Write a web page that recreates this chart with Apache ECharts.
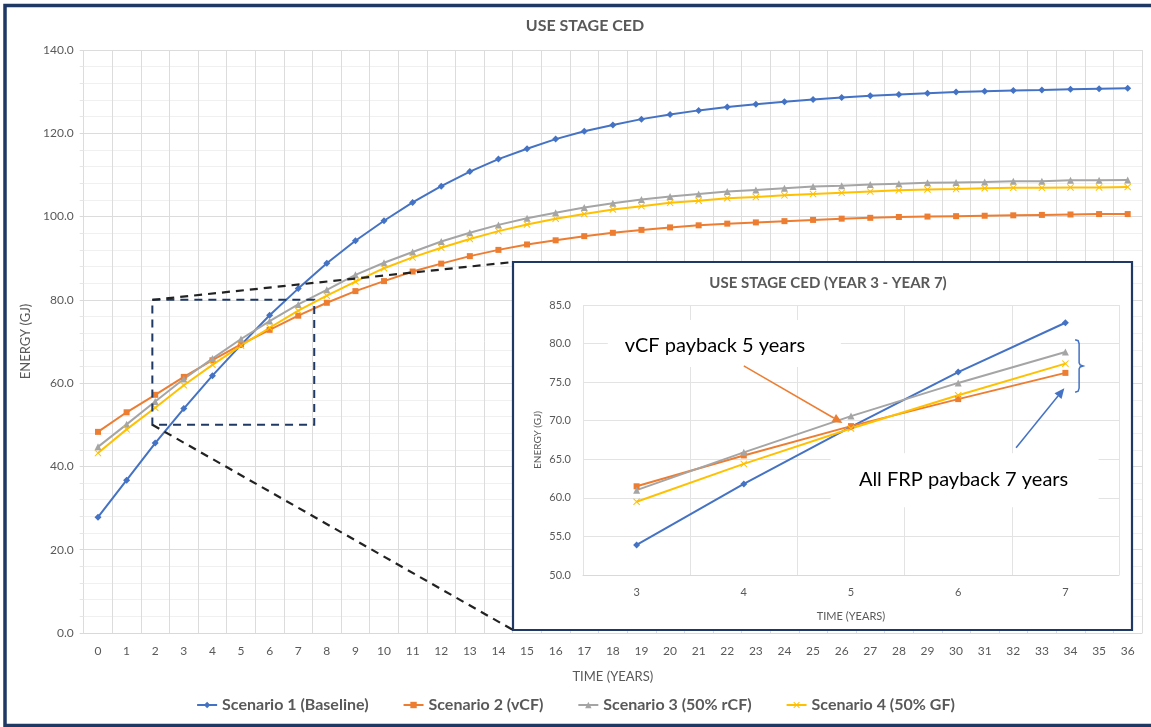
<!DOCTYPE html>
<html>
<head>
<meta charset="utf-8">
<script src="https://cdn.jsdelivr.net/npm/echarts@6/dist/echarts.min.js"></script>
<style>
  html, body { margin: 0; padding: 0; background: #fff; }
  #chart { width: 1151px; height: 727px; }
</style>
</head>
<body>
<div id="chart"></div>
<script>
// Time axis (years after installation)
const years = ['0','1','2','3','4','5','6','7','8','9','10','11','12','13','14','15','16','17','18',
  '19','20','21','22','23','24','25','26','27','28','29','30','31','32','33','34','35','36'];

// Cumulative use-stage CED (GJ) per scenario
const scenario1 = [27.8, 36.7, 45.6, 53.9, 61.8, 69.2, 76.3, 82.7, 88.8, 94.2, 99.0, 103.4, 107.3, 110.8,
  113.8, 116.3, 118.6, 120.5, 122.0, 123.4, 124.5, 125.5, 126.3, 127.0, 127.6, 128.1, 128.6, 129.0,
  129.3, 129.6, 129.9, 130.1, 130.3, 130.4, 130.6, 130.7, 130.8];
const scenario2 = [48.3, 53.0, 57.2, 61.5, 65.5, 69.3, 72.8, 76.2, 79.3, 82.1, 84.5, 86.8, 88.7, 90.5,
  92.0, 93.3, 94.3, 95.3, 96.1, 96.8, 97.4, 97.9, 98.3, 98.6, 98.9, 99.2, 99.5, 99.7, 99.9, 100.0,
  100.1, 100.2, 100.3, 100.4, 100.5, 100.6, 100.6];
const scenario3 = [44.7, 50.1, 55.6, 61.0, 65.9, 70.6, 74.9, 78.9, 82.4, 86.0, 88.9, 91.5, 94.0, 96.1,
  98.0, 99.6, 100.9, 102.2, 103.2, 104.1, 104.8, 105.4, 106.0, 106.4, 106.8, 107.2, 107.4, 107.7,
  107.9, 108.1, 108.2, 108.3, 108.5, 108.5, 108.7, 108.7, 108.8];
const scenario4 = [43.2, 48.9, 54.1, 59.5, 64.4, 69.0, 73.3, 77.4, 81.0, 84.4, 87.6, 90.2, 92.5, 94.6,
  96.5, 98.1, 99.5, 100.6, 101.7, 102.5, 103.3, 103.8, 104.4, 104.7, 105.1, 105.4, 105.7, 106.0,
  106.3, 106.5, 106.6, 106.8, 106.9, 106.9, 107.0, 107.0, 107.1];

const seriesNames = ['Scenario 1 (Baseline)', 'Scenario 2 (vCF)', 'Scenario 3 (50% rCF)', 'Scenario 4 (50% GF)'];
const seriesData = [scenario1, scenario2, scenario3, scenario4];
const colors = ['#4472C4', '#ED7D31', '#A5A5A5', '#FFC000'];
const crossSymbol = 'path://M1,0 L5,4 L9,0 L10,1 L6,5 L10,9 L9,10 L5,6 L1,10 L0,9 L4,5 L0,1 Z';
const symbols = ['diamond', 'rect', 'triangle', crossSymbol];
const symbolSizes = [7, 6, 7, 7];

// Detail window: years 3..7
const insetFrom = 3, insetTo = 7;
const insetYears = years.slice(insetFrom, insetTo + 1);

const FONT = 'Lato, "Open Sans", sans-serif';
const GREY = '#595959';
const NAVY = '#1F3864';

// Layout of the detail panel
const inset = { left: 583, top: 305, right: 1119, bottom: 575 };
const insetBox = { x: 513, y: 262, x2: 1132, y2: 630 };

const chart = echarts.init(document.getElementById('chart'), null, { renderer: 'canvas' });

const mainSeries = seriesNames.map((name, i) => ({
  name, type: 'line', xAxisIndex: 0, yAxisIndex: 0,
  data: seriesData[i],
  symbol: symbols[i], symbolSize: symbolSizes[i], showSymbol: true,
  lineStyle: { color: colors[i], width: 2 },
  itemStyle: { color: colors[i] },
  z: 2
}));
const insetSeries = seriesNames.map((name, i) => ({
  name, type: 'line', xAxisIndex: 1, yAxisIndex: 1,
  data: seriesData[i].slice(insetFrom, insetTo + 1),
  symbol: symbols[i], symbolSize: symbolSizes[i], showSymbol: true,
  lineStyle: { color: colors[i], width: 2 },
  itemStyle: { color: colors[i] },
  z: 10
}));

chart.setOption({
  animation: false,
  backgroundColor: '#fff',
  textStyle: { fontFamily: FONT },
  title: [
    { text: 'USE STAGE CED', left: 580, top: 13, textAlign: 'center',
      textStyle: { fontFamily: FONT, fontSize: 16, fontWeight: 'bold', color: GREY } },
    { text: 'USE STAGE CED (YEAR 3 - YEAR 7)', left: 823, top: 271, textAlign: 'center', z: 12,
      textStyle: { fontFamily: FONT, fontSize: 15, fontWeight: 'bold', color: GREY } }
  ],
  legend: {
    data: seriesNames, bottom: 9, left: 'center',
    itemWidth: 20, itemHeight: 8, itemGap: 34,
    textStyle: { fontFamily: FONT, fontSize: 16, fontWeight: 700, color: GREY }
  },
  grid: [
    { left: 83.7, right: 9, top: 50, bottom: 94 },
    { left: inset.left, top: inset.top, width: inset.right - inset.left, height: inset.bottom - inset.top, z: 8 }
  ],
  xAxis: [
    { type: 'category', gridIndex: 0, data: years, boundaryGap: true,
      name: 'TIME (YEARS)', nameLocation: 'middle', nameGap: 37,
      nameTextStyle: { fontFamily: FONT, fontSize: 13, color: GREY },
      axisLine: { lineStyle: { color: '#D9D9D9' } },
      axisTick: { show: false },
      axisLabel: { color: GREY, fontSize: 12, margin: 12, interval: 0 },
      splitLine: { show: true, interval: 0, lineStyle: { color: '#DCDCDC', width: 1 } } },
    { type: 'category', gridIndex: 1, data: insetYears, boundaryGap: true, z: 8,
      name: 'TIME (YEARS)', nameLocation: 'middle', nameGap: 36,
      nameTextStyle: { fontFamily: FONT, fontSize: 11, color: GREY },
      axisLine: { lineStyle: { color: '#D9D9D9' } },
      axisTick: { show: false },
      axisLabel: { color: GREY, fontSize: 11, margin: 12 },
      splitLine: { show: true, interval: 0, lineStyle: { color: '#E3E3E3', width: 1 } } }
  ],
  yAxis: [
    { type: 'value', gridIndex: 0, min: 0, max: 140, interval: 20,
      name: 'ENERGY (GJ)', nameLocation: 'middle', nameGap: 45,
      nameTextStyle: { fontFamily: FONT, fontSize: 13, color: GREY },
      axisLine: { show: false },
      axisTick: { show: true, length: 4, lineStyle: { color: '#D9D9D9' } },
      minorTick: { show: true, splitNumber: 5, length: 4, lineStyle: { color: '#E6E6E6' } },
      axisLabel: { color: GREY, fontSize: 12, margin: 10, formatter: v => v.toFixed(1) },
      splitLine: { show: true, lineStyle: { color: '#DCDCDC', width: 1 } },
      minorSplitLine: { show: true, lineStyle: { color: '#F0F0F0', width: 1 } } },
    { type: 'value', gridIndex: 1, min: 50, max: 85, interval: 5, z: 8,
      name: 'ENERGY (GJ)', nameLocation: 'middle', nameGap: 40,
      nameTextStyle: { fontFamily: FONT, fontSize: 10, color: GREY },
      axisLine: { show: false },
      axisTick: { show: false },
      axisLabel: { color: GREY, fontSize: 11, margin: 12, formatter: v => v.toFixed(1) },
      splitLine: { show: true, lineStyle: { color: '#E3E3E3', width: 1 } } }
  ],
  series: mainSeries.concat(insetSeries)
});

// Pixel position for a (possibly fractional) category index and a value on a grid
function px(gridIndex, xi, y) {
  const i0 = Math.floor(xi), f = xi - i0;
  const a = chart.convertToPixel({ gridIndex }, [i0, y]);
  if (f === 0) return a;
  const b = chart.convertToPixel({ gridIndex }, [i0 + 1, y]);
  return [a[0] + (b[0] - a[0]) * f, a[1]];
}

function arrow(from, to, color, z) {
  const ang = Math.atan2(to[1] - from[1], to[0] - from[0]);
  const L = 10, W = 4.5;
  const bx = to[0] - L * Math.cos(ang), by = to[1] - L * Math.sin(ang);
  const nx = -Math.sin(ang) * W, ny = Math.cos(ang) * W;
  return [
    { type: 'line', z, shape: { x1: from[0], y1: from[1], x2: bx, y2: by },
      style: { stroke: color, lineWidth: 1.5 } },
    { type: 'polygon', z, shape: { points: [[to[0], to[1]], [bx + nx, by + ny], [bx - nx, by - ny]] },
      style: { fill: color } }
  ];
}

// Dashed window marking years ~2..7.5 and 50..80 GJ on the main plot
const winTL = px(0, 1.9, 80);
const winBR = px(0, 7.56, 50);

// Annotation anchors in the detail panel
const vcfText = px(1, 0.73, 79.7);
const vcfFrom = px(1, 1.0, 77.1);
const vcfTo = px(1, 1.92, 69.7);
const frpText = px(1, 3.05, 62.4);
const frpFrom = px(1, 3.54, 66.5);
const frpTo = px(1, 3.99, 74.2);
const brTop = px(1, 4.1, 80.5);
const brBot = px(1, 4.1, 73.7);
const brMidY = (brTop[1] + brBot[1]) / 2;
const bx = brTop[0];

// Right-hand brace grouping the composite scenarios at year 7
const bracePts = [
  [bx - 1, brTop[1]], [bx + 2, brTop[1] + 1], [bx + 3, brTop[1] + 4],
  [bx + 3, brMidY - 3], [bx + 4, brMidY - 1], [bx + 7, brMidY],
  [bx + 4, brMidY + 1], [bx + 3, brMidY + 3],
  [bx + 3, brBot[1] - 4], [bx + 2, brBot[1] - 1], [bx - 1, brBot[1]]
];

const graphics = [
  // outer frame
  { type: 'rect', z: 20, silent: true, shape: { x: 5, y: 5.5, width: 1170, height: 720 },
    style: { fill: null, stroke: NAVY, lineWidth: 3.5 } },
  // zoom window
  { type: 'rect', z: 6, shape: { x: winTL[0], y: winTL[1], width: winBR[0] - winTL[0], height: winBR[1] - winTL[1] },
    style: { fill: null, stroke: NAVY, lineWidth: 2, lineDash: [8, 6] } },
  // connectors to the detail panel
  { type: 'line', z: 6, shape: { x1: winTL[0], y1: winTL[1], x2: insetBox.x, y2: insetBox.y },
    style: { stroke: '#222', lineWidth: 2.2, lineDash: [8, 6] } },
  { type: 'line', z: 6, shape: { x1: winTL[0], y1: winBR[1], x2: insetBox.x, y2: insetBox.y2 },
    style: { stroke: '#222', lineWidth: 2.2, lineDash: [8, 6] } },
  // detail panel background and frame
  { type: 'rect', z: 5, shape: { x: insetBox.x, y: insetBox.y, width: insetBox.x2 - insetBox.x, height: insetBox.y2 - insetBox.y },
    style: { fill: '#fff', stroke: NAVY, lineWidth: 2.2 } },
  // label boxes
  { type: 'rect', z: 9, shape: { x: vcfText[0] - 107, y: vcfText[1] - 26, width: 233, height: 47 },
    style: { fill: '#fff' } },
  { type: 'text', z: 13, style: { x: vcfText[0], y: vcfText[1], text: 'vCF payback 5 years',
      fill: '#000', font: '20px ' + FONT, textAlign: 'center', textVerticalAlign: 'middle' } },
  { type: 'rect', z: 9, shape: { x: frpText[0] - 133, y: frpText[1] - 26, width: 268, height: 54 },
    style: { fill: '#fff' } },
  { type: 'text', z: 13, style: { x: frpText[0], y: frpText[1], text: 'All FRP payback 7 years',
      fill: '#000', font: '20px ' + FONT, textAlign: 'center', textVerticalAlign: 'middle' } },
  { type: 'polyline', z: 13, shape: { points: bracePts },
    style: { fill: null, stroke: colors[0], lineWidth: 1.5 } }
].concat(arrow(vcfFrom, vcfTo, colors[1], 13), arrow(frpFrom, frpTo, colors[0], 13));

chart.setOption({ graphic: graphics });
</script>
</body>
</html>
